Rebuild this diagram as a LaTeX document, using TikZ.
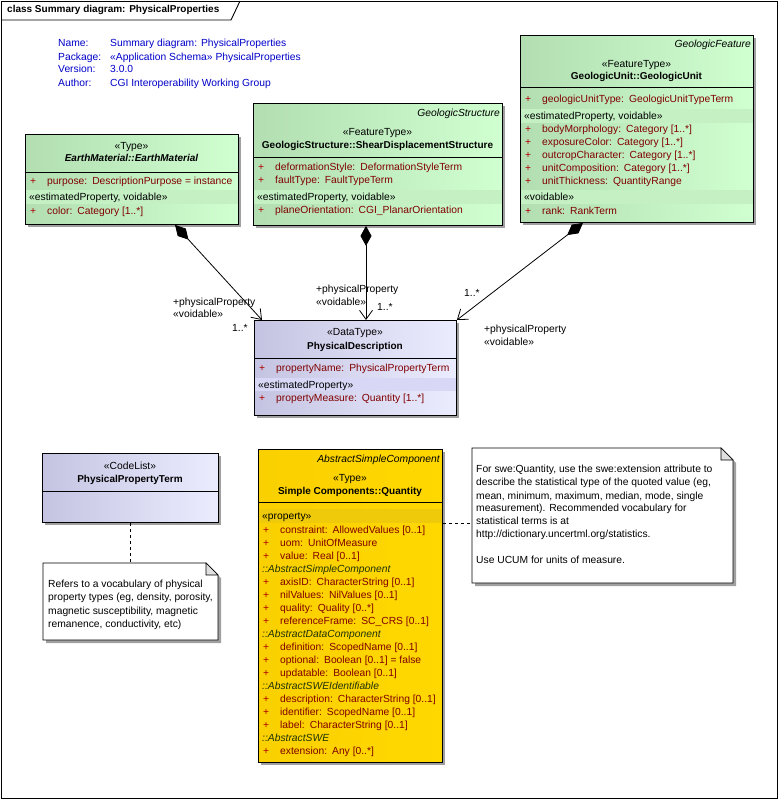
\documentclass[tikz,border=0pt]{standalone}
\usepackage{fontspec}
\setmainfont{Liberation Sans}
\usetikzlibrary{arrows.meta,calc}
\definecolor{grL}{RGB}{178,222,178}
\definecolor{grR}{RGB}{208,255,208}
\definecolor{grB}{RGB}{196,240,196}
\definecolor{lvL}{RGB}{196,196,226}
\definecolor{lvR}{RGB}{236,236,255}
\definecolor{lvB}{RGB}{216,216,246}
\definecolor{gdL}{RGB}{250,208,0}
\definecolor{gdR}{RGB}{255,216,0}
\definecolor{gdB}{RGB}{238,202,10}
\definecolor{attrc}{RGB}{128,0,0}
\definecolor{plusc}{RGB}{176,0,0}
\definecolor{infoc}{RGB}{0,0,200}
\definecolor{inhc}{RGB}{30,50,10}
\definecolor{shd}{RGB}{160,160,160}
\definecolor{foldc}{RGB}{224,224,224}
\newcommand\gapp{\hspace{5pt}}
\newcommand\attrow[4]{%
  \node[plus] (#1p) at (#2+5,#3) {+};
  \node[attr] (#1) at (#2+22,#3) {#4};}
\newcommand\mybox[6]{%
  \fill[shd] (#2+3,#3+3) rectangle (#2+#4+3,#3+#5+3);
  \node[umlbox,#6,minimum width=#4 pt,minimum height=#5 pt] (#1) at (#2,#3) {};}
\newcommand\mynote[5]{%
  \node[inner sep=0pt,anchor=north west,minimum width=#4-#2 pt,minimum height=#5-#3 pt] (#1) at (#2,#3) {};
  \fill[shd] (#2+3,#3+3) -- (#4-9,#3+3) -- (#4+3,#3+15) -- (#4+3,#5+3) -- (#2+3,#5+3) -- cycle;
  \filldraw[fill=white,line width=0.8pt] (#2,#3) -- (#4-12,#3) -- (#4,#3+12) -- (#4,#5) -- (#2,#5) -- cycle;
  \filldraw[fill=foldc,line width=0.6pt] (#4-12,#3) -- (#4-12,#3+12) -- (#4,#3+12) -- cycle;}
\begin{document}
\begin{tikzpicture}[x=1pt,y=-1pt,
  txt/.style={inner sep=0pt,text height=8pt,text depth=2pt,font=\fontsize{10.3}{12}\selectfont},
  lt/.style={txt,anchor=west},
  ct/.style={txt,anchor=center},
  rt/.style={txt,anchor=east,font=\fontsize{10.3}{12}\selectfont\itshape},
  plus/.style={txt,anchor=west,text=plusc},
  attr/.style={txt,anchor=west,text=attrc},
  inh/.style={txt,anchor=west,text=inhc,font=\fontsize{10.3}{12}\selectfont\itshape},
  bold/.style={txt,anchor=center,font=\fontsize{10}{12}\selectfont\bfseries},
  info/.style={txt,anchor=west,text=infoc},
  umlbox/.style={draw=black,line width=0.9pt,inner sep=0pt,anchor=north west},
  sepl/.style={line width=0.9pt},
  assoc/.style={line width=0.8pt,{Diamond[length=20pt,width=11pt]}-{Straight Barb[length=9pt,width=13pt,line width=0.8pt]}},
  notel/.style={line width=0.8pt,dash pattern=on 3pt off 3pt}
]
\useasboundingbox (0,0) rectangle (779,800);
% frame
\draw[line width=0.9pt] (1,1) rectangle (777,798);
\draw[line width=0.9pt] (1,20) -- (231,20) -- (240,1);
\node[txt,anchor=west,font=\fontsize{10}{12}\selectfont\bfseries] (title) at (7,10) {class Summary diagram: PhysicalProperties};
% info
\node[info] (i1) at (58,44) {Name:};
\node[info] (i2) at (58,57) {Package:};
\node[info] (i3) at (58,70) {Version:};
\node[info] (i4) at (58,83) {Author:};
\node[info] (v1) at (110,44) {Summary diagram: PhysicalProperties};
\node[info] (v2) at (110,57) {«Application Schema» PhysicalProperties};
\node[info] (v3) at (110,70) {3.0.0};
\node[info] (v4) at (110,83) {CGI Interoperability Working Group};

% EarthMaterial
\mybox{em}{25}{134}{213}{90}{left color=grL,right color=grR}
\node[ct] (emst) at (131.5,146) {«Type»};
\node[bold,font=\fontsize{10}{12}\selectfont\bfseries\itshape] (emnm) at (131.5,158) {EarthMaterial::EarthMaterial};
\draw[sepl] (25,172) -- (238,172);
\attrow{ema1}{25}{181}{purpose:\gapp DescriptionPurpose = instance}
\fill[grB] (25.5,190) rectangle (237.5,204);
\node[lt] (emb1) at (29,197) {«estimatedProperty, voidable»};
\attrow{ema2}{25}{211}{color:\gapp Category [1..*]}

% GeologicStructure
\mybox{gs}{253}{103}{249}{122}{left color=grL,right color=grR}
\node[rt] (gsab) at (500,113) {GeologicStructure};
\node[ct] (gsst) at (377.5,132) {«FeatureType»};
\node[bold] (gsnm) at (377.5,145) {GeologicStructure::ShearDisplacementStructure};
\draw[sepl] (253,157) -- (502,157);
\attrow{gsa1}{253}{167}{deformationStyle:\gapp DeformationStyleTerm}
\attrow{gsa2}{253}{180}{faultType:\gapp FaultTypeTerm}
\fill[grB] (253.5,190) rectangle (501.5,204);
\node[lt] (gsb1) at (257,197) {«estimatedProperty, voidable»};
\attrow{gsa3}{253}{210}{planeOrientation:\gapp CGI\_PlanarOrientation}

% GeologicUnit
\mybox{gu}{520}{35}{233}{187}{left color=grL,right color=grR}
\node[rt] (guab) at (751,45) {GeologicFeature};
\node[ct] (gust) at (636.5,64) {«FeatureType»};
\node[bold] (gunm) at (636.5,77) {GeologicUnit::GeologicUnit};
\draw[sepl] (520,87) -- (753,87);
\attrow{gua1}{520}{99}{geologicUnitType:\gapp GeologicUnitTypeTerm}
\fill[grB] (520.5,109) rectangle (752.5,123);
\node[lt] (gub1) at (524,116) {«estimatedProperty, voidable»};
\attrow{gua2}{520}{129}{bodyMorphology:\gapp Category [1..*]}
\attrow{gua3}{520}{142}{exposureColor:\gapp Category [1..*]}
\attrow{gua4}{520}{155}{outcropCharacter:\gapp Category [1..*]}
\attrow{gua5}{520}{168}{unitComposition:\gapp Category [1..*]}
\attrow{gua6}{520}{181}{unitThickness:\gapp QuantityRange}
\fill[grB] (520.5,190) rectangle (752.5,204);
\node[lt] (gub2) at (524,197) {«voidable»};
\attrow{gua7}{520}{211}{rank:\gapp RankTerm}

% PhysicalDescription
\mybox{pd}{254}{320}{202}{95}{left color=lvL,right color=lvR}
\node[ct] (pdst) at (355,332) {«DataType»};
\node[bold] (pdnm) at (355,346) {PhysicalDescription};
\draw[sepl] (254,358) -- (456,358);
\attrow{pda1}{254}{368}{propertyName:\gapp PhysicalPropertyTerm}
\fill[lvB] (254.5,378) rectangle (455.5,391);
\node[lt] (pdb1) at (258,385) {«estimatedProperty»};
\attrow{pda2}{254}{398}{propertyMeasure:\gapp Quantity [1..*]}

% PhysicalPropertyTerm
\mybox{ppt}{42}{453}{176}{69}{left color=lvL,right color=lvR}
\node[ct] (pptst) at (130,466) {«CodeList»};
\node[bold] (pptnm) at (130,479) {PhysicalPropertyTerm};
\draw[sepl] (42,491) -- (218,491);

% Quantity
\mybox{q}{258}{449}{184}{313}{left color=gdL,right color=gdR}
\node[rt] (qab) at (440,459) {AbstractSimpleComponent};
\node[ct] (qst) at (350,478) {«Type»};
\node[bold] (qnm) at (350,491) {Simple Components::Quantity};
\draw[sepl] (258,502) -- (442,502);
\fill[gdB] (258.5,509) rectangle (441.5,523);
\node[lt] (qb1) at (262,516) {«property»};
\attrow{qa1}{258}{530}{constraint:\gapp AllowedValues [0..1]}
\attrow{qa2}{258}{543}{uom:\gapp UnitOfMeasure}
\attrow{qa3}{258}{556}{value:\gapp Real [0..1]}
\node[inh] (qi1) at (262,569) {::AbstractSimpleComponent};
\attrow{qa4}{258}{582}{axisID:\gapp CharacterString [0..1]}
\attrow{qa5}{258}{595}{nilValues:\gapp NilValues [0..1]}
\attrow{qa6}{258}{608}{quality:\gapp Quality [0..*]}
\attrow{qa7}{258}{621}{referenceFrame:\gapp SC\_CRS [0..1]}
\node[inh] (qi2) at (262,634) {::AbstractDataComponent};
\attrow{qa8}{258}{647}{definition:\gapp ScopedName [0..1]}
\attrow{qa9}{258}{660}{optional:\gapp Boolean [0..1] = false}
\attrow{qa10}{258}{673}{updatable:\gapp Boolean [0..1]}
\node[inh] (qi3) at (262,686) {::AbstractSWEIdentifiable};
\attrow{qa11}{258}{699}{description:\gapp CharacterString [0..1]}
\attrow{qa12}{258}{712}{identifier:\gapp ScopedName [0..1]}
\attrow{qa13}{258}{725}{label:\gapp CharacterString [0..1]}
\node[inh] (qi4) at (262,738) {::AbstractSWE};
\attrow{qa14}{258}{751}{extension:\gapp Any [0..*]}

% Notes
\mynote{n1}{43}{563}{218}{640}
\node[lt] (n1t1) at (48,584) {Refers to a vocabulary of physical};
\node[lt] (n1t2) at (48,597) {property types (eg, density, porosity,};
\node[lt] (n1t3) at (48,611) {magnetic susceptibility, magnetic};
\node[lt] (n1t4) at (48,624) {remanence, conductivity, etc)};

\mynote{n2}{472}{448}{733}{583}
\node[lt] (n2t1) at (476,469) {For swe:Quantity, use the swe:extension attribute to};
\node[lt] (n2t2) at (476,482) {describe the statistical type of the quoted value (eg,};
\node[lt] (n2t3) at (476,496) {mean, minimum, maximum, median, mode, single};
\node[lt] (n2t4) at (476,508) {measurement). Recommended vocabulary for};
\node[lt] (n2t5) at (476,521) {statistical terms is at};
\node[lt] (n2t6) at (476,534) {http://dictionary.uncertml.org/statistics.};
\node[lt] (n2t7) at (476,560) {Use UCUM for units of measure.};

% note links
\draw[notel] (ppt.south) -- (ppt.south |- n1.north);
\coordinate (qa) at ($(q.north east)+(0,74)$);
\draw[notel] (qa) -- (qa -| n2.west);

% associations
\coordinate (c1s) at ($(em.south west)+(150,0)$);
\coordinate (c1e) at ($(pd.north west)+(8,0)$);
\draw[assoc] (c1s) -- (c1e);
\coordinate (c2s) at ($(gs.south west)+(113,0)$);
\coordinate (c2e) at ($(pd.north west)+(112,0)$);
\draw[assoc] (c2s) -- (c2e);
\coordinate (c3s) at ($(gu.south west)+(63,0)$);
\draw[assoc] (c3s) -- (pd.north east);

\node[lt] (l1a) at (173,302) {+physicalProperty};
\node[lt] (l1b) at (173,314) {«voidable»};
\node[lt] (l1c) at (232,328) {1..*};
\node[lt] (l2a) at (316,289) {+physicalProperty};
\node[lt] (l2b) at (316,302) {«voidable»};
\node[lt] (l2c) at (377,307) {1..*};
\node[lt] (l3c) at (464,293) {1..*};
\node[lt] (l3a) at (484,329) {+physicalProperty};
\node[lt] (l3b) at (484,342) {«voidable»};
\end{tikzpicture}
\end{document}
